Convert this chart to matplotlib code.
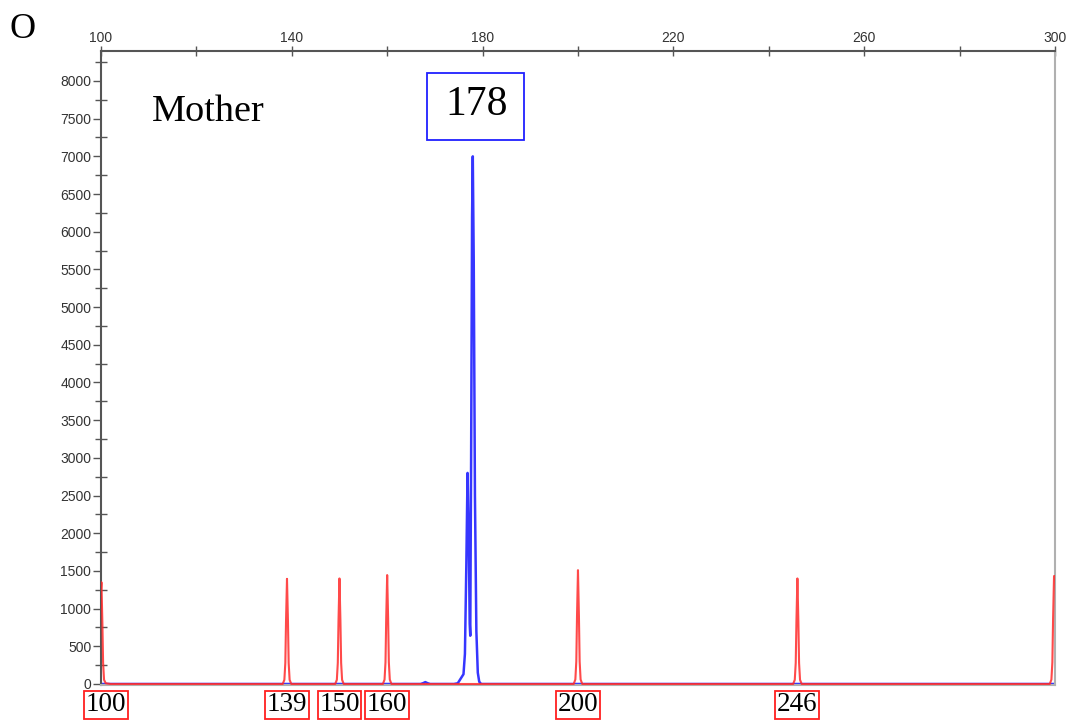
import matplotlib
matplotlib.use("Agg")
import matplotlib.pyplot as plt
from matplotlib.patches import Rectangle
import matplotlib.transforms as mtransforms

# ---- data (bp, RFU) ----
# red size-standard trace
red_bp = [100.0, 100.1, 100.3, 100.45, 100.65, 101.0, 102.0,
          138.1, 138.45, 138.65, 138.8, 139.0, 139.2, 139.35, 139.55, 139.9,
          149.1, 149.45, 149.65, 149.8, 150.0, 150.2, 150.35, 150.55, 150.9,
          159.1, 159.45, 159.65, 159.8, 160.0, 160.2, 160.35, 160.55, 160.9,
          199.1, 199.45, 199.65, 199.8, 200.0, 200.2, 200.35, 200.55, 200.9,
          245.1, 245.45, 245.65, 245.8, 246.0, 246.2, 246.35, 246.55, 246.9,
          298.9, 299.25, 299.45, 299.6, 299.8, 300.0]
red_rfu = [1250, 1350, 800, 280, 55, 10, 0,
           0, 55, 280, 840, 1395, 840, 280, 55, 0,
           0, 55, 280, 840, 1400, 840, 280, 55, 0,
           0, 58, 290, 870, 1445, 870, 290, 58, 0,
           0, 60, 300, 900, 1510, 900, 300, 60, 0,
           0, 55, 280, 840, 1400, 840, 280, 55, 0,
           0, 58, 290, 860, 1432, 1432]

# blue sample trace
blue_bp = [100.0, 167.0, 167.5, 168.0, 168.5, 169.0,
           174.0, 174.8, 175.3, 175.7, 176.0, 176.3, 176.6, 176.85,
           177.1, 177.3, 177.42, 177.6, 177.8, 177.95, 178.15, 178.4,
           178.7, 179.0, 179.3, 179.7, 300.0]
blue_rfu = [0, 0, 10, 25, 10, 0,
            0, 10, 60, 100, 130, 400, 1600, 2800,
            2000, 800, 640, 3000, 6200, 7000, 5600, 2500,
            700, 150, 30, 0, 0]

x_major = [100, 140, 180, 220, 260, 300]
x_minor = [120, 160, 200, 240, 280]
y_major = list(range(0, 8001, 500))
y_minor = list(range(250, 8300, 500))

size_labels = [100, 139, 150, 160, 200, 246]
allele_label = "178"
sample_name = "Mother"
panel_letter = "O"

# ---- figure ----
fig = plt.figure(figsize=(10.74, 7.28), dpi=100)
ax = fig.add_axes([0.094, 0.0591, 0.8883, 0.8709])

ax.plot(blue_bp, blue_rfu, color="#3636ff", lw=1.8, zorder=2)
ax.plot(red_bp, red_rfu, color="#ff2a2a", lw=1.5, alpha=0.85, zorder=3)

ax.set_xlim(100, 300)
ax.set_ylim(-13, 8398)

ax.xaxis.tick_top()
ax.set_xticks(x_major)
ax.set_xticks(x_minor, minor=True)
ax.set_yticks(y_major)
ax.set_yticks(y_minor, minor=True)

for lab in ax.get_xticklabels() + ax.get_yticklabels():
    lab.set_fontfamily("Liberation Sans")

ax.tick_params(axis="x", which="both", direction="inout", length=7, width=1,
               color="#555555", labelsize=10, labelcolor="#333333", pad=1)
ax.tick_params(axis="y", which="major", direction="out", length=6, width=1,
               color="#555555", labelsize=10, labelcolor="#333333", pad=1)
ax.tick_params(axis="y", which="minor", direction="inout", length=8, width=1,
               color="#555555")

ax.spines["top"].set_color("#555555")
ax.spines["left"].set_color("#555555")
ax.spines["top"].set_linewidth(1.5)
ax.spines["left"].set_linewidth(1.5)
ax.spines["right"].set_color("#b0b0b0")
ax.spines["bottom"].set_color("#b0b0b0")
ax.spines["right"].set_linewidth(1.5)
ax.spines["bottom"].set_linewidth(1.5)

# sample name
ax.text(0.0535, 0.904, sample_name, transform=ax.transAxes, fontsize=27.5,
        family="Liberation Serif", va="center", ha="left", color="black")

# allele call box
ax.add_patch(Rectangle((168.35, 7215), 20.33, 888, fill=False,
                       edgecolor="#2020ff", lw=1.3, zorder=5, clip_on=False))
ax.text(178.7, 7680, allele_label, fontsize=30, family="Liberation Serif",
        ha="center", va="center", color="black", zorder=6)

# size-standard labels below the axis
trans = mtransforms.blended_transform_factory(ax.transData, ax.transAxes)
for s in size_labels:
    xpos = s + 1 if s == 100 else s
    ax.text(xpos, -0.0315, str(s), transform=trans, fontsize=19.5,
            family="Liberation Serif", ha="center", va="center",
            color="black", clip_on=False,
            bbox=dict(boxstyle="square,pad=0.06", ec="#ff2020", fc="none", lw=1.3))

# panel letter
fig.text(0.0214, 0.959, panel_letter, fontsize=26, family="Liberation Serif",
         ha="center", va="center")

fig.savefig("out.png", dpi=100)
